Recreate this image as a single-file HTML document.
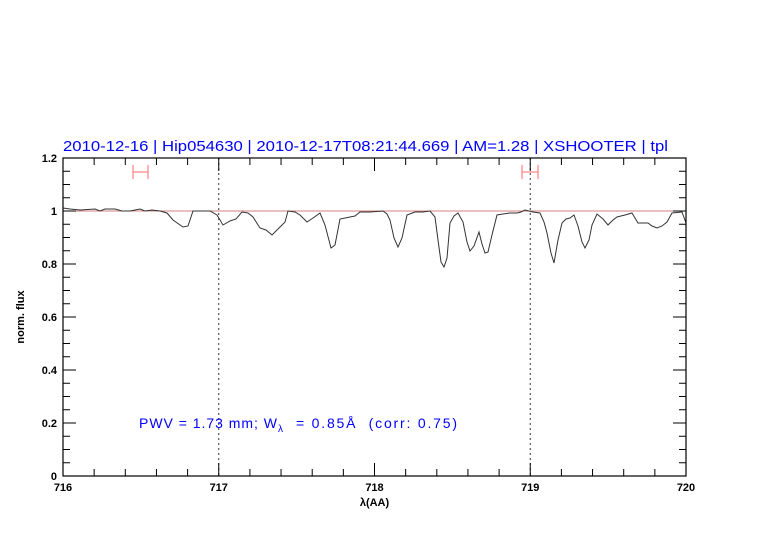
<!DOCTYPE html>
<html><head><meta charset="utf-8"><style>body{margin:0;background:#fff}svg{display:block}</style></head>
<body>
<svg width="782" height="542" viewBox="0 0 782 542" xmlns="http://www.w3.org/2000/svg" font-family="Liberation Sans, sans-serif">
<rect width="782" height="542" fill="#fff"/>
<text x="63" y="151" fill="#0000ff" font-size="15" textLength="605" lengthAdjust="spacingAndGlyphs">2010-12-16 | Hip054630 | 2010-12-17T08:21:44.669 | AM=1.28 | XSHOOTER | tpl</text>
<line x1="63" y1="211" x2="686" y2="211" stroke="#d08080" stroke-width="1"/>
<line x1="218.75" y1="158" x2="218.75" y2="476" stroke="#333" stroke-dasharray="2,3"/>
<line x1="530.25" y1="158" x2="530.25" y2="476" stroke="#333" stroke-dasharray="2,3"/>
<g stroke="#ff8080" stroke-width="1.2"><line x1="133" y1="172" x2="148" y2="172"/><line x1="133" y1="165" x2="133" y2="179"/><line x1="148" y1="165" x2="148" y2="179"/>
<line x1="522" y1="172" x2="538" y2="172"/><line x1="522" y1="165" x2="522" y2="179"/><line x1="538" y1="165" x2="538" y2="179"/></g>
<polyline fill="none" stroke="#333" stroke-width="1" points="63,208 70,209 80,210 95,209 100,211 105,209 115,209 122,211 130,211 140,209 145,211 152,210 160,211 167,213 173,220 183,227 188,226 193,211 200,211 210,211 217,215 223,225 230,221 236,219 242,212 248,213 253,217 260,228 266,230 272,235 280,227 285,222 288,211 295,212 300,215 307,222 313,218 320,213 325,225 331,248 335,245 340,219 350,217 355,216 360,212 370,212 383,211 387,214 390,220 394,238 398,247 402,238 407,215 415,212 423,212 430,211 435,217 438,240 441,262 444,267 447,258 450,223 454,216 458,213 463,222 467,242 470,251 474,246 479,232 482,244 485,253 488,252 492,235 497,215 503,214 510,213 517,213 521,212 525,210 533,212 540,213 544,222 547,233 551,253 554,263 558,240 562,223 566,219 570,218 574,215 578,226 582,242 585,248 589,240 592,225 597,214 603,219 608,225 613,220 617,217 625,215 632,213 638,223 643,223 648,223 652,226 657,228 662,226 667,222 672,213 682,212 686,223"/>
<rect x="63" y="158" width="623" height="318" fill="none" stroke="#000" stroke-width="1.2"/>
<g stroke="#000" stroke-width="1">
<path d="M94.15,476v-7M125.3,476v-7M156.45,476v-7M187.6,476v-7M249.9,476v-7M281.05,476v-7M312.2,476v-7M343.35,476v-7M405.65,476v-7M436.8,476v-7M467.95,476v-7M499.1,476v-7M561.4,476v-7M592.55,476v-7M623.7,476v-7M654.85,476v-7M218.75,476v-13M374.5,476v-13M530.25,476v-13"/>
<path d="M94.15,158v7M125.3,158v7M156.45,158v7M187.6,158v7M249.9,158v7M281.05,158v7M312.2,158v7M343.35,158v7M405.65,158v7M436.8,158v7M467.95,158v7M499.1,158v7M561.4,158v7M592.55,158v7M623.7,158v7M654.85,158v7M218.75,158v13M374.5,158v13M530.25,158v13"/>
<path d="M63,462.75h7M63,449.5h7M63,436.25h7M63,409.75h7M63,396.5h7M63,383.25h7M63,356.75h7M63,343.5h7M63,330.25h7M63,303.75h7M63,290.5h7M63,277.25h7M63,250.75h7M63,237.5h7M63,224.25h7M63,197.75h7M63,184.5h7M63,171.25h7M63,423h13M63,370h13M63,317h13M63,264h13M63,211h13"/>
<path d="M686,462.75h-7M686,449.5h-7M686,436.25h-7M686,409.75h-7M686,396.5h-7M686,383.25h-7M686,356.75h-7M686,343.5h-7M686,330.25h-7M686,303.75h-7M686,290.5h-7M686,277.25h-7M686,250.75h-7M686,237.5h-7M686,224.25h-7M686,197.75h-7M686,184.5h-7M686,171.25h-7M686,423h-13M686,370h-13M686,317h-13M686,264h-13M686,211h-13"/>
</g>
<g font-size="11" font-weight="bold" fill="#000" text-anchor="middle">
<text x="63" y="491">716</text><text x="218.75" y="491">717</text><text x="374.5" y="491">718</text><text x="530.25" y="491">719</text><text x="686" y="491">720</text>
<text x="374.5" y="506">λ(AA)</text>
</g>
<g font-size="11" font-weight="bold" fill="#000" text-anchor="end">
<text x="57" y="480">0</text><text x="57" y="427">0.2</text><text x="57" y="374">0.4</text><text x="57" y="321">0.6</text><text x="57" y="268">0.8</text><text x="57" y="215">1</text><text x="57" y="162">1.2</text>
</g>
<text transform="translate(24,317) rotate(-90)" font-size="11" font-weight="bold" text-anchor="middle">norm. flux</text>
<g fill="#0000ff" font-size="14">
<text x="139" y="428" textLength="138" lengthAdjust="spacing">PWV&#160;=&#160;1.73&#160;mm;&#160;W</text>
<text x="278" y="432" font-size="10">λ</text>
<text x="296" y="428" textLength="161" lengthAdjust="spacing">=&#160;0.85Å&#160;&#160;(corr:&#160;0.75)</text>
</g>
</svg>
</body></html>
